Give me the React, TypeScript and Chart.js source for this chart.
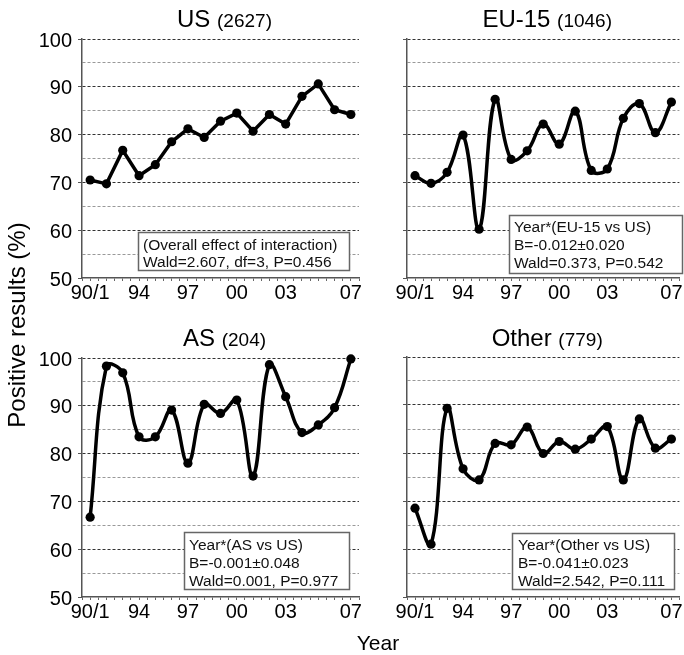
import React, { useEffect, useRef } from "react";
import { Chart, registerables } from "chart.js";

Chart.register(...registerables);

const FONT = '"Liberation Sans", Arial, Helvetica, sans-serif';

// ---- data ----
const years = ["90/1", "92", "93", "94", "95", "96", "97", "98", "99", "00", "01", "02", "03", "04", "05", "06", "07"];
const tickLabels = ["90/1", "94", "97", "00", "03", "07"];
const yTickValues = [50, 55, 60, 65, 70, 75, 80, 85, 90, 95, 100];

const usValues = [70.5, 69.7, 76.7, 71.4, 73.7, 78.5, 81.2, 79.4, 82.8, 84.5, 80.7, 84.2, 82.2, 88.0, 90.6, 85.2, 84.2];
const euValues = [71.4, 69.8, 72.1, 79.9, 60.2, 87.4, 74.8, 76.6, 82.2, 78.0, 84.9, 72.5, 72.8, 83.4, 86.5, 80.4, 86.8];
const asValues = [66.7, 98.3, 96.9, 83.5, 83.5, 89.1, 78.0, 90.3, 88.4, 91.2, 75.3, 98.6, 91.9, 84.4, 86.0, 89.6, 99.8];
const otherValues = [68.5, 61.0, 89.3, 76.7, 74.4, 82.0, 81.7, 85.4, 79.9, 82.4, 80.8, 82.9, 85.5, 74.4, 87.1, 81.0, 82.9];

const panelNames = ["US", "EU-15", "AS", "Other"];
const panelCounts = ["(2627)", "(1046)", "(204)", "(779)"];

const usNote = ["(Overall effect of interaction)", "Wald=2.607, df=3, P=0.456"];
const euNote = ["Year*(EU-15 vs US)", "B=-0.012\u00b10.020", "Wald=0.373, P=0.542"];
const asNote = ["Year*(AS vs US)", "B=-0.001\u00b10.048", "Wald=0.001, P=0.977"];
const otherNote = ["Year*(Other vs US)", "B=-0.041\u00b10.023", "Wald=2.542, P=0.111"];

type PanelCfg = {
  name: string;
  count: string;
  values: number[];
  note: string[];
  tension: number;
  showYLabels: boolean;
  left: number;
  top: number;
  w: number;
  h: number;
  areaLeft: number;
  areaTop: number;
  areaBottom: number;
  areaRight: number;
  titleY: number;
  box: { x: number; y: number; w: number; h: number; tx: number; baselines: number[] };
};

const panels: PanelCfg[] = [
  {
    name: panelNames[0], count: panelCounts[0], values: usValues, note: usNote, tension: 0, showYLabels: true,
    left: 0, top: 0, w: 370, h: 320, areaLeft: 82, areaTop: 39, areaBottom: 278, areaRight: 359, titleY: 27,
    box: { x: 138, y: 232, w: 211, h: 38, tx: 143, baselines: [250, 266.5] },
  },
  {
    name: panelNames[1], count: panelCounts[1], values: euValues, note: euNote, tension: 0.4, showYLabels: false,
    left: 370, top: 0, w: 314, h: 320, areaLeft: 37, areaTop: 39, areaBottom: 278, areaRight: 314, titleY: 27,
    box: { x: 139, y: 215, w: 173, h: 58, tx: 144, baselines: [231.5, 249.5, 267.5] },
  },
  {
    name: panelNames[2], count: panelCounts[2], values: asValues, note: asNote, tension: 0.4, showYLabels: true,
    left: 0, top: 320, w: 370, h: 330, areaLeft: 82, areaTop: 38, areaBottom: 277, areaRight: 359, titleY: 26,
    box: { x: 184, y: 212, w: 165, h: 57, tx: 189, baselines: [230, 248, 266] },
  },
  {
    name: panelNames[3], count: panelCounts[3], values: otherValues, note: otherNote, tension: 0.4, showYLabels: false,
    left: 370, top: 320, w: 314, h: 330, areaLeft: 37, areaTop: 37, areaBottom: 277, areaRight: 314, titleY: 26,
    box: { x: 142, y: 213, w: 162, h: 56, tx: 148, baselines: [230, 248, 266] },
  },
];

const X_AXIS_H = 30;

function decorPlugin(p: PanelCfg) {
  return {
    id: "decor",
    afterDatasetsDraw(chart: any) {
      const { ctx, chartArea } = chart;
      ctx.save();
      // title
      const cx = (chartArea.left + chartArea.right) / 2 + 4;
      ctx.textAlign = "left";
      ctx.textBaseline = "alphabetic";
      ctx.fillStyle = "#000";
      ctx.font = `24px ${FONT}`;
      const w1 = ctx.measureText(p.name + " ").width;
      ctx.font = `19px ${FONT}`;
      const w2 = ctx.measureText(p.count).width;
      const x0 = cx - (w1 + w2) / 2;
      ctx.font = `24px ${FONT}`;
      ctx.fillText(p.name + " ", x0, p.titleY);
      ctx.font = `19px ${FONT}`;
      ctx.fillText(p.count, x0 + w1, p.titleY);
      // note box
      const b = p.box;
      ctx.fillStyle = "#fff";
      ctx.fillRect(b.x, b.y, b.w, b.h);
      ctx.strokeStyle = "#666";
      ctx.lineWidth = 1.5;
      ctx.strokeRect(b.x + 0.5, b.y + 0.5, b.w, b.h);
      ctx.fillStyle = "#111";
      ctx.font = `15.5px ${FONT}`;
      p.note.forEach((line, i) => ctx.fillText(line, b.tx, b.baselines[i]));
      ctx.restore();
    },
  };
}

function makeConfig(p: PanelCfg): any {
  return {
    type: "line",
    data: {
      datasets: [
        {
          data: p.values.map((v, i) => ({ x: i, y: v })),
          borderColor: "#000",
          backgroundColor: "#000",
          borderWidth: 3.5,
          pointRadius: 4.6,
          pointBorderWidth: 0,
          pointBackgroundColor: "#000",
          tension: p.tension,
          fill: false,
          clip: false,
        },
      ],
    },
    options: {
      animation: false,
      responsive: false,
      maintainAspectRatio: false,
      events: [],
      layout: {
        padding: {
          left: 0,
          top: p.areaTop,
          right: p.w - p.areaRight,
          bottom: p.h - p.areaBottom - X_AXIS_H,
        },
      },
      plugins: { legend: { display: false }, tooltip: { enabled: false }, title: { display: false } },
      scales: {
        x: {
          type: "linear",
          min: -0.5,
          max: years.length - 0.5,
          afterBuildTicks: (s: any) => {
            const t = [];
            for (let v = -0.5; v <= years.length - 0.5 + 1e-9; v += 0.5) t.push({ value: v });
            s.ticks = t;
          },
          afterFit: (s: any) => {
            s.height = X_AXIS_H;
            s.paddingLeft = 0;
            s.paddingRight = 0;
          },
          ticks: {
            autoSkip: false,
            maxRotation: 0,
            minRotation: 0,
            padding: 2,
            color: "#000",
            font: { family: FONT, size: 20, lineHeight: 1 },
            callback: (v: number) => {
              if (Number.isInteger(v) && v >= 0 && v < years.length && tickLabels.includes(years[v])) return years[v];
              return "";
            },
          },
          grid: { drawOnChartArea: false, drawTicks: true, tickLength: 3, color: "#666", tickColor: "#666", lineWidth: 1 },
          border: { color: "#555", width: 1.5 },
        },
        y: {
          type: "linear",
          min: 50,
          max: 100,
          afterBuildTicks: (s: any) => {
            s.ticks = yTickValues.map((v) => ({ value: v }));
          },
          afterFit: (s: any) => {
            s.width = p.areaLeft;
            s.paddingTop = 0;
            s.paddingBottom = 0;
          },
          ticks: {
            autoSkip: false,
            padding: 6,
            labelOffset: 2,
            color: "#000",
            font: { family: FONT, size: 20 },
            callback: (v: number) => (p.showYLabels && v % 10 === 0 ? String(v) : ""),
          },
          grid: {
            drawOnChartArea: true,
            drawTicks: true,
            tickLength: 4,
            lineWidth: 1,
            color: (c: any) => {
              const v = c.tick ? c.tick.value : 0;
              if (v === 50) return "rgba(0,0,0,0)";
              return v % 10 === 0 ? "#333" : "#999";
            },
            tickColor: (c: any) => {
              const v = c.tick ? c.tick.value : 0;
              return v % 10 === 0 ? "#555" : "rgba(0,0,0,0)";
            },
          },
          border: { color: "#555", width: 1.5, dash: [3, 2] },
        },
      },
    },
    plugins: [decorPlugin(p)],
  };
}

function Panel({ cfg }: { cfg: PanelCfg }) {
  const ref = useRef<HTMLCanvasElement>(null);
  useEffect(() => {
    const chart = new Chart(ref.current as HTMLCanvasElement, makeConfig(cfg));
    return () => chart.destroy();
  }, [cfg]);
  return (
    <canvas
      ref={ref}
      width={cfg.w}
      height={cfg.h}
      style={{ position: "absolute", left: cfg.left, top: cfg.top, width: cfg.w, height: cfg.h }}
    />
  );
}

export default function App() {
  return (
    <div style={{ position: "absolute", left: 0, top: 0, width: 684, height: 655, background: "#fff", overflow: "hidden" }}>
      {panels.map((p) => (
        <Panel key={p.name} cfg={p} />
      ))}
      <div
        style={{
          position: "absolute",
          left: 17 - 160,
          top: 325 - 12,
          width: 320,
          height: 24,
          lineHeight: "24px",
          textAlign: "center",
          fontFamily: FONT,
          fontSize: 24,
          color: "#000",
          transform: "rotate(-90deg)",
          whiteSpace: "nowrap",
        }}
      >
        Positive results (%)
      </div>
      <div
        style={{
          position: "absolute",
          left: 378 - 60,
          top: 632,
          width: 120,
          lineHeight: "21px",
          textAlign: "center",
          fontFamily: FONT,
          fontSize: 21,
          color: "#000",
          whiteSpace: "nowrap",
        }}
      >
        Year
      </div>
    </div>
  );
}
